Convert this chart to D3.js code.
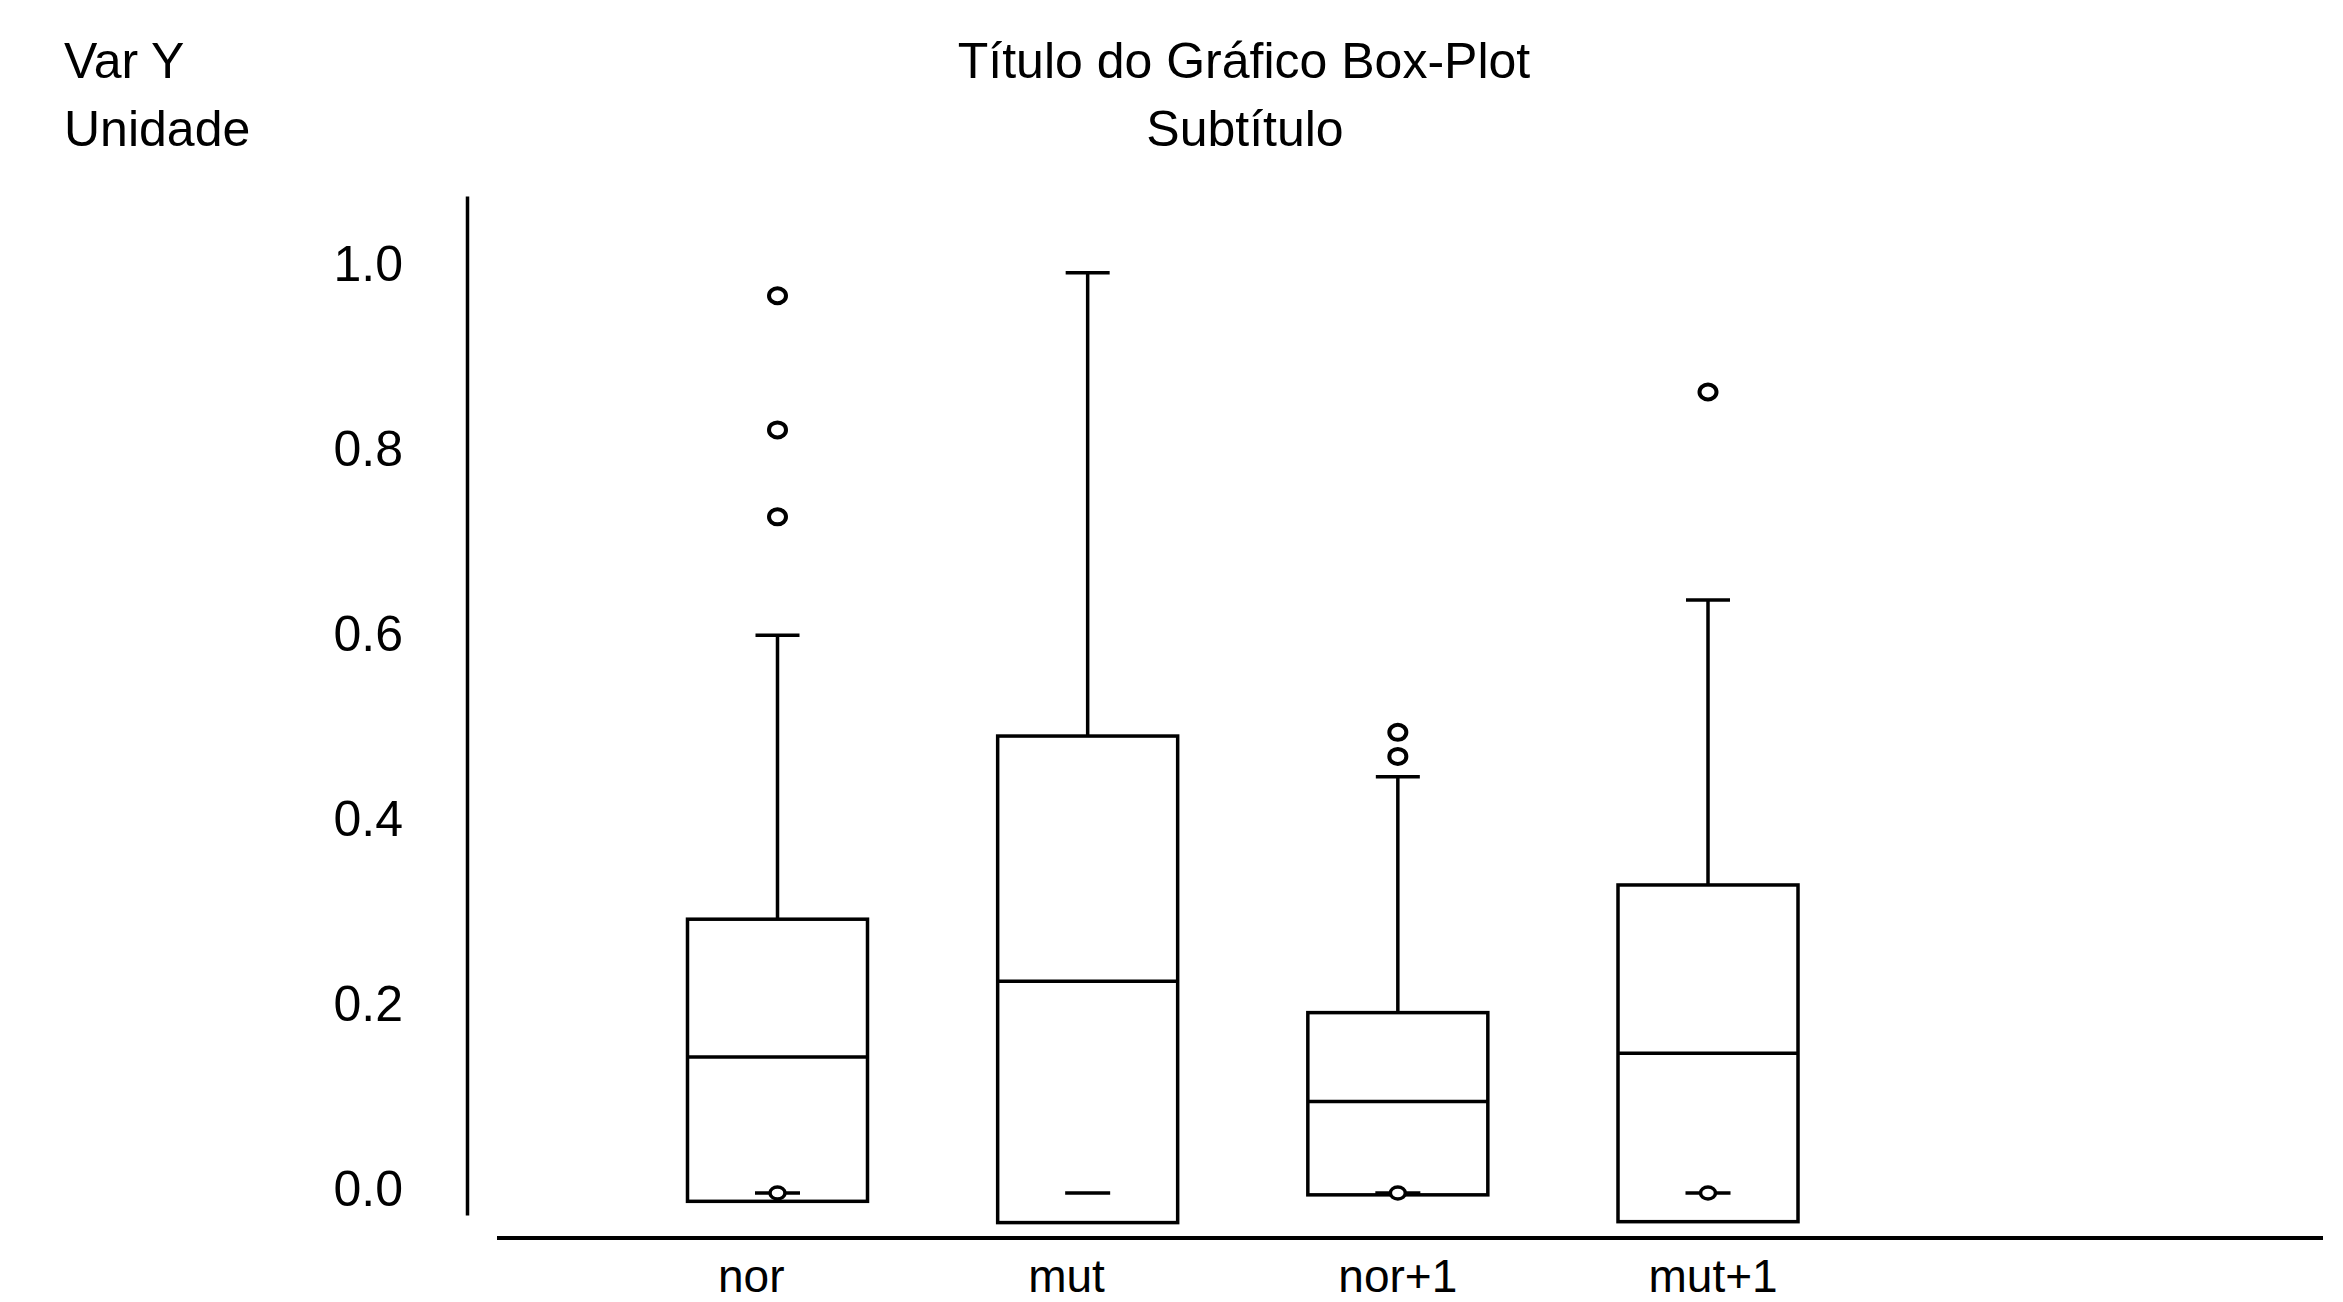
<!DOCTYPE html>
<html>
<head>
<meta charset="utf-8">
<script src="https://cdnjs.cloudflare.com/ajax/libs/d3/7.8.5/d3.min.js"></script>
<style>
  html, body { margin: 0; padding: 0; background: #fff; }
  svg { display: block; }
  text { font-family: "Liberation Sans", Arial, sans-serif; fill: #000; }
</style>
</head>
<body>
<svg id="chart" width="2343" height="1302"></svg>
<script>
// ---- data ----
const categories = ["nor", "mut", "nor+1", "mut+1"];
const q1Values      = [-0.009, -0.032, -0.002, -0.031];
const medianValues  = [0.147, 0.229, 0.099, 0.151];
const q3Values      = [0.296, 0.494, 0.195, 0.333];
const whiskerTop    = [0.603, 0.995, 0.450, 0.641];
const outliers      = [[0.970, 0.825, 0.731], [], [0.498, 0.472], [0.866]];
const zeroValues    = [0, 0, 0, 0];
const zeroHasCircle = [true, false, true, true];
const yTicks = [0.0, 0.2, 0.4, 0.6, 0.8, 1.0];
const titleText = "Título do Gráfico Box-Plot";
const subtitleText = "Subtítulo";
const yLabel1 = "Var Y";
const yLabel2 = "Unidade";

// ---- layout ----
const svg = d3.select("#chart");
const stroke = 3.5;
const fontMain = 50;

const y = d3.scaleLinear().domain([0, 1]).range([1193, 268]);
const x = d3.scalePoint().domain(categories).range([777.5, 1708]);
const boxW = 180, capW = 44, zeroW = 45;

// titles
svg.append("text").attr("x", 1244).attr("y", 78).attr("text-anchor", "middle")
  .attr("font-size", fontMain).text(titleText);
svg.append("text").attr("x", 1245).attr("y", 146).attr("text-anchor", "middle")
  .attr("font-size", fontMain).text(subtitleText);
svg.append("text").attr("x", 64).attr("y", 78).attr("font-size", fontMain).text(yLabel1);
svg.append("text").attr("x", 64).attr("y", 146).attr("font-size", fontMain).text(yLabel2);

// y axis
const yAxisScale = y.copy().domain([y.invert(1215), y.invert(196)]).range([1215, 196]);
const yAxis = d3.axisLeft(yAxisScale).tickValues(yTicks).tickFormat(d3.format(".1f"))
  .tickSizeInner(0).tickSizeOuter(0).tickPadding(64);
const gy = svg.append("g").attr("transform", "translate(467,0)").call(yAxis);
gy.select(".domain").attr("stroke", "#000").attr("stroke-width", stroke);
gy.selectAll(".tick text").attr("font-size", fontMain).attr("dy", "0.25em")
  .style("font-family", "'Liberation Sans', Arial, sans-serif").attr("fill", "#000");

// x axis
svg.append("line").attr("x1", 497).attr("x2", 2323).attr("y1", 1238).attr("y2", 1238)
  .attr("stroke", "#000").attr("stroke-width", 4);
const xAxis = d3.axisBottom(x).tickSize(0).tickPadding(0);
const gx = svg.append("g").attr("transform", "translate(0,1292)").call(xAxis);
gx.select(".domain").remove();
gx.selectAll(".tick text").attr("font-size", 46).attr("text-anchor", "start")
  .attr("dx", -60).attr("dy", 0).attr("y", 0)
  .style("font-family", "'Liberation Sans', Arial, sans-serif").attr("fill", "#000");

// boxes
const data = categories.map((c, i) => ({
  c, q1: q1Values[i], med: medianValues[i], q3: q3Values[i], wt: whiskerTop[i],
  out: outliers[i], zero: zeroValues[i], circ: zeroHasCircle[i]
}));

const g = svg.append("g").attr("stroke", "#000").attr("stroke-width", stroke).attr("fill", "none");
const box = g.selectAll("g.box").data(data).join("g").attr("class", "box");

box.append("line")
  .attr("x1", d => x(d.c)).attr("x2", d => x(d.c))
  .attr("y1", d => y(d.q3)).attr("y2", d => y(d.wt));
box.append("line")
  .attr("x1", d => x(d.c) - capW / 2).attr("x2", d => x(d.c) + capW / 2)
  .attr("y1", d => y(d.wt)).attr("y2", d => y(d.wt));
box.append("rect")
  .attr("x", d => x(d.c) - boxW / 2).attr("width", boxW)
  .attr("y", d => y(d.q3)).attr("height", d => y(d.q1) - y(d.q3))
  .attr("fill", "#fff");
box.append("line")
  .attr("x1", d => x(d.c) - boxW / 2).attr("x2", d => x(d.c) + boxW / 2)
  .attr("y1", d => y(d.med)).attr("y2", d => y(d.med));
// zero markers
box.append("line")
  .attr("x1", d => x(d.c) - zeroW / 2).attr("x2", d => x(d.c) + zeroW / 2)
  .attr("y1", d => y(d.zero)).attr("y2", d => y(d.zero));
box.filter(d => d.circ).append("ellipse")
  .attr("cx", d => x(d.c)).attr("cy", d => y(d.zero)).attr("rx", 7.5).attr("ry", 6)
  .attr("fill", "#fff");
// outliers
box.selectAll("ellipse.out").data(d => d.out.map(v => ({ c: d.c, v }))).join("ellipse")
  .attr("class", "out")
  .attr("cx", d => x(d.c)).attr("cy", d => y(d.v)).attr("rx", 8.5).attr("ry", 7.5)
  .attr("stroke-width", 4)
  .attr("fill", "#fff");
</script>
</body>
</html>
